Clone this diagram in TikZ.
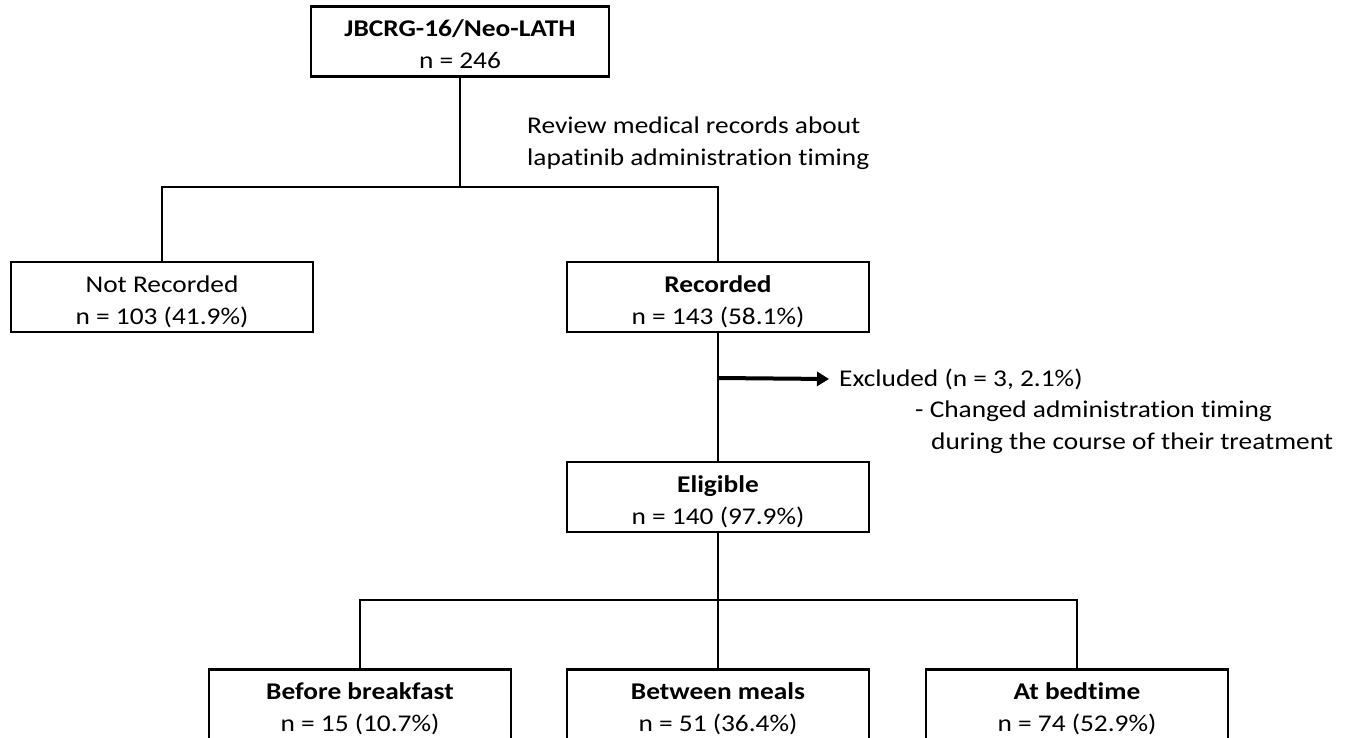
\documentclass[tikz,border=0pt]{standalone}
\usepackage{fontspec}
\setmainfont{Carlito}[FakeStretch=1.14, Ligatures={NoCommon}]
\usetikzlibrary{arrows.meta}
\newcommand\mytstrut[1]{\rule{0pt}{#1}}
\begin{document}
\begin{tikzpicture}[x=1pt,y=-1pt,
  box/.style={draw=black, line width=2.5pt, minimum width=302pt, minimum height=70pt, align=center, inner sep=0pt, font=\fontsize{24}{32}\selectfont},
  lowbox/.style={box, minimum height=78pt, anchor=north},
  conn/.style={draw=black, line width=1.8pt},
  lbl/.style={anchor=west, inner sep=0pt, font=\fontsize{24}{32}\selectfont, align=left}]
\clip (0,0) rectangle (1358,738);
\fill[white] (0,0) rectangle (1358,738);
\node[box, minimum width=298pt] (top) at (460,41.5) {\mytstrut{23pt}\textbf{JBCRG-16/Neo-LATH}\\n = 246};
\node[box] (notrec) at (162,297) {\mytstrut{26pt}Not Recorded\\n = 103 (41.9\%)};
\node[box] (rec) at (718,297) {\mytstrut{26pt}\textbf{Recorded}\\n = 143 (58.1\%)};
\node[box] (elig) at (718,497) {\mytstrut{26pt}\textbf{Eligible}\\n = 140 (97.9\%)};
\node[lowbox] (before) at (360,668) {\textbf{Before breakfast}\\n = 15 (10.7\%)};
\node[lowbox] (between) at (718,668) {\textbf{Between meals}\\n = 51 (36.4\%)};
\node[lowbox] (bed) at (1077,668) {\textbf{At bedtime}\\n = 74 (52.9\%)};
\coordinate (s1) at (460,187);
\coordinate (s2) at (718,600);
\coordinate (ex) at (718,378);
\node[lbl] (review) at (527,143) {Review medical records about\\lapatinib administration timing};
\node[lbl] (excl) at (839,379) {Excluded (n = 3, 2.1\%)};
\node[lbl] (reason) at (915,427) {- Changed administration timing\\\hspace*{16pt}during the course of their treatment};
\draw[conn] (top.south) -- (s1);
\draw[conn] (notrec.north) |- (s1) -| (rec.north);
\draw[conn] (rec.south) -- (elig.north);
\draw[line width=4pt, -{Triangle[length=12pt,width=14pt]}] (ex) -- (excl.west -| 829,0);
\draw[conn] (elig.south) -- (s2);
\draw[conn] (before.north) |- (s2) -| (bed.north);
\draw[conn] (s2) -- (between.north);
\end{tikzpicture}
\end{document}
